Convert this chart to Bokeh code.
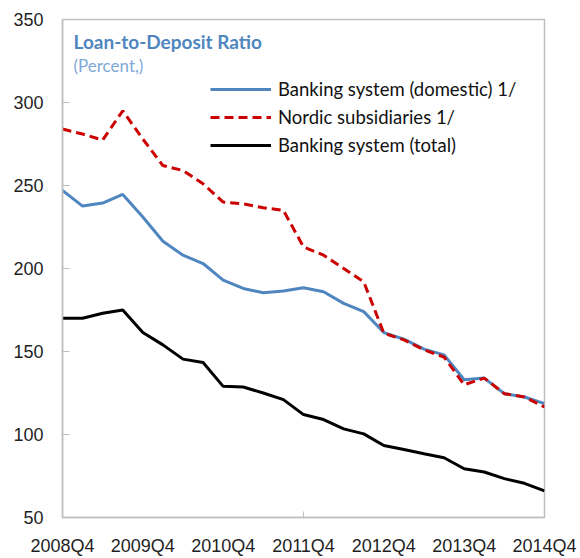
from bokeh.plotting import figure
from bokeh.models import Range1d, FixedTicker, Legend, LegendItem, Label, ColumnDataSource
from bokeh.embed import file_html
from bokeh.resources import INLINE

# ---- data -------------------------------------------------------------
quarters = [
    "2008Q4", "2009Q1", "2009Q2", "2009Q3", "2009Q4",
    "2010Q1", "2010Q2", "2010Q3", "2010Q4",
    "2011Q1", "2011Q2", "2011Q3", "2011Q4",
    "2012Q1", "2012Q2", "2012Q3", "2012Q4",
    "2013Q1", "2013Q2", "2013Q3", "2013Q4",
    "2014Q1", "2014Q2", "2014Q3", "2014Q4",
]
domestic = [247, 237.6, 239.4, 244.6, 231, 216.4, 208, 203, 193, 188, 185.4, 186.4,
            188.4, 186, 179, 174, 161.4, 157.4, 151.4, 148, 133, 134, 124.6, 122.6, 118.6]
nordic = [284, 281, 277.4, 295, 278, 262, 259, 251, 240, 239, 236.6, 235,
          213, 208, 200, 192, 161, 157, 151, 146.6, 130, 134, 124.6, 122.6, 116.6]
total = [170, 170, 173, 175, 161.5, 154, 145.4, 143.4, 129, 128.6, 125, 121,
         112, 109, 103.4, 100.4, 93.4, 91, 88.4, 86, 79.4, 77.4, 73.4, 70.6, 66]
y_ticks = [50, 100, 150, 200, 250, 300, 350]
label_quarters = ["2008Q4", "2009Q4", "2010Q4", "2011Q4", "2012Q4", "2013Q4", "2014Q4"]

series_names = ["Banking system (domestic) 1/", "Nordic subsidiaries 1/", "Banking system (total)"]
title_text = "Loan-to-Deposit Ratio"
subtitle_text = "(Percent,)"

# ---- figure -----------------------------------------------------------
xs = list(range(len(quarters)))
src = ColumnDataSource(dict(x=xs, domestic=domestic, nordic=nordic, total=total))

p = figure(width=580, height=558, output_backend="svg", toolbar_location=None,
           x_range=Range1d(0, len(quarters) - 1), y_range=Range1d(y_ticks[0], y_ticks[-1]))
p.min_border_left = 62
p.min_border_right = 36
p.min_border_top = 19
p.min_border_bottom = 40
p.outline_line_color = "#BFBFBF"
p.outline_line_width = 1.5
p.xgrid.visible = False
p.ygrid.visible = False
p.background_fill_color = "white"
p.border_fill_color = "white"

TICK_FONT = "Liberation Sans"
LEG_FONT = "Lato"

# y axis
p.yaxis.ticker = FixedTicker(ticks=y_ticks)
p.yaxis.major_tick_in = 7
p.yaxis.major_tick_out = 0
p.yaxis.minor_tick_line_color = None
p.yaxis.major_tick_line_color = "#BFBFBF"
p.yaxis.axis_line_color = "#BFBFBF"
p.yaxis.axis_line_width = 1.5
p.yaxis.major_label_standoff = 19
p.yaxis.major_label_text_font = TICK_FONT
p.yaxis.major_label_text_font_size = "18px"
p.yaxis.major_label_text_color = "#1f1f1f"

# x axis
tick_pos = [quarters.index(q) for q in label_quarters]
p.xaxis.ticker = FixedTicker(ticks=tick_pos, minor_ticks=[quarters.index("2011Q4")])
p.xaxis.major_label_overrides = {quarters.index(q): q for q in label_quarters}
p.xaxis.major_tick_line_color = None
p.xaxis.minor_tick_line_color = "#BFBFBF"
p.xaxis.minor_tick_in = 6
p.xaxis.minor_tick_out = 0
p.xaxis.axis_line_color = "#BFBFBF"
p.xaxis.axis_line_width = 1.5
p.xaxis.major_label_standoff = 12
p.xaxis.major_label_text_font = TICK_FONT
p.xaxis.major_label_text_font_size = "18px"
p.xaxis.major_label_text_color = "#1f1f1f"

# lines
r_dom = p.line("x", "domestic", source=src, line_color="#4F86C0", line_width=3)
r_nor = p.line("x", "nordic", source=src, line_color="#CC0000", line_width=3, line_dash="9 5")
r_tot = p.line("x", "total", source=src, line_color="#000000", line_width=3)

legend = Legend(items=[LegendItem(label=series_names[0], renderers=[r_dom]),
                       LegendItem(label=series_names[1], renderers=[r_nor]),
                       LegendItem(label=series_names[2], renderers=[r_tot])],
                location=(148, 361), border_line_color=None, background_fill_alpha=0,
                padding=0, margin=0, spacing=6, glyph_width=61, glyph_height=20,
                label_height=20, label_standoff=7,
                label_text_font=LEG_FONT, label_text_font_size="18.5px",
                label_text_color="#111111")
p.add_layout(legend, "center")

p.add_layout(Label(x=11, y=476, x_units="screen", y_units="screen", text=title_text,
                   text_font=LEG_FONT, text_font_style="bold", text_font_size="19px",
                   text_color="#4F86C0", text_baseline="alphabetic"))
p.add_layout(Label(x=11, y=452, x_units="screen", y_units="screen", text=subtitle_text,
                   text_font=LEG_FONT, text_font_size="17px",
                   text_color="#7FA9D8", text_baseline="alphabetic"))

open("out.html", "w").write(file_html(p, INLINE))
